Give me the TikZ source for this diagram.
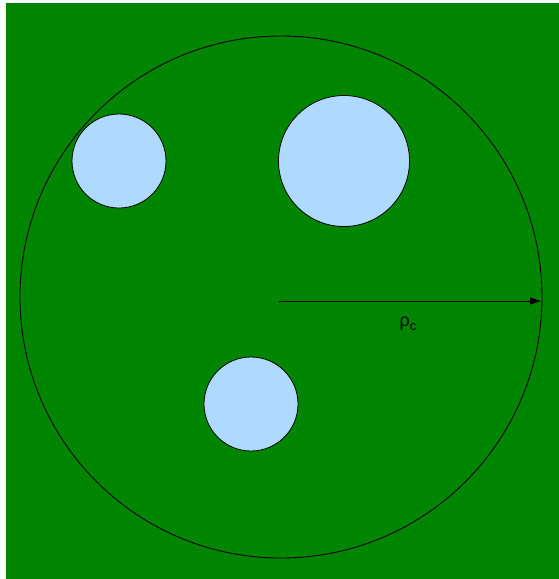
\documentclass[tikz,border=0pt]{standalone}
\usepackage{fontspec}
\setmainfont{Liberation Sans}
\usetikzlibrary{arrows.meta}
\definecolor{bggreen}{RGB}{0,133,0}
\definecolor{holeblue}{RGB}{175,218,255}
\begin{document}
\begin{tikzpicture}[x=1pt,y=-1pt,
  hole/.style={draw=black,fill=holeblue,line width=0.8pt},
  outer/.style={draw=black,line width=0.9pt}]
\useasboundingbox (0,0) rectangle (559,579);
\fill[bggreen] (6,3) rectangle (559,579);
\node[circle,outer,minimum size=522pt,inner sep=0pt] (core) at (281,297) {};
\node[circle,hole,minimum size=94pt,inner sep=0pt] (h1) at (119,161) {};
\node[circle,hole,minimum size=131pt,inner sep=0pt] (h2) at (344,161) {};
\node[circle,hole,minimum size=94pt,inner sep=0pt] (h3) at (251,404) {};
\coordinate (a0) at (279,301);
\coordinate (a1) at (541,301);
\draw[line width=0.8pt,-{Triangle[length=11pt,width=7pt]}] (a0) -- (a1);
\node[inner sep=0pt] (lab) at (408,324) {\fontsize{18}{20}\selectfont ρ\raisebox{-4pt}{\fontsize{13}{15}\selectfont c}};
\end{tikzpicture}
\end{document}
